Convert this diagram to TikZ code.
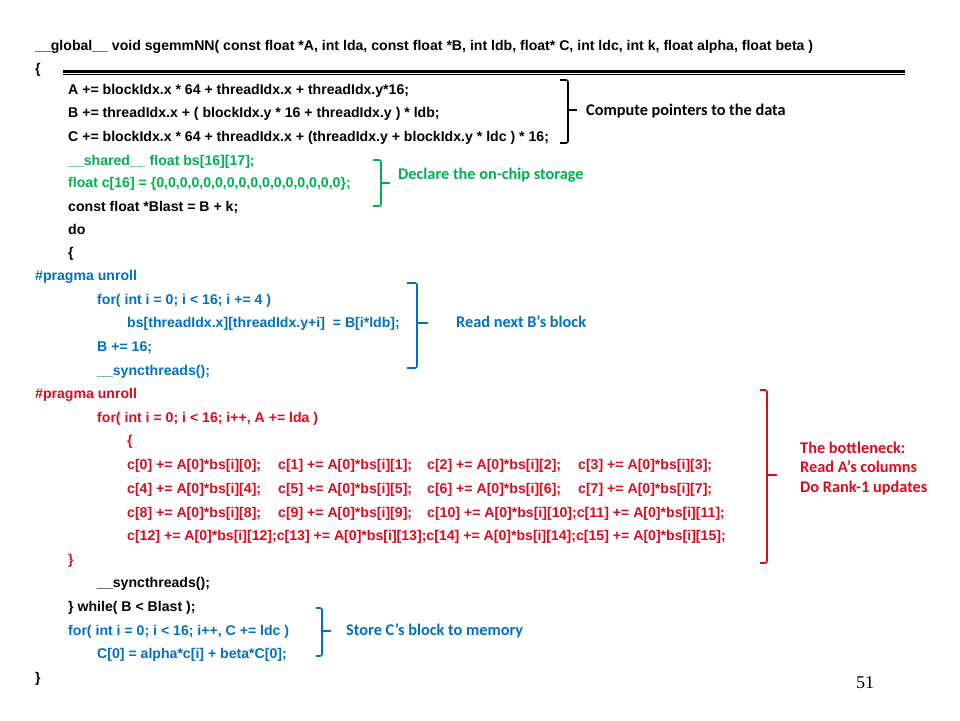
\documentclass[tikz,border=0pt]{standalone}
\usepackage{fontspec}
\setmainfont{Liberation Sans}
\newfontfamily\notefont{Carlito}
\newfontfamily\numfont{Liberation Serif}
\definecolor{codegreen}{RGB}{0,176,80}
\definecolor{codeblue}{RGB}{0,112,192}
\definecolor{codered}{RGB}{220,10,30}
\tikzset{
  code/.style={anchor=west, inner sep=0pt, text height=11pt, text depth=1pt,
               font=\bfseries\fontsize{14.1}{16}\selectfont},
  note/.style={anchor=west, inner sep=0pt, text height=12pt, text depth=1.5pt,
               font=\notefont\bfseries\fontsize{16.3}{19.3}\selectfont},
  bracket/.style={line width=1.6pt, rounded corners=2pt},
}
\begin{document}
\begin{tikzpicture}[x=1pt, y=-1pt]
        \useasboundingbox (0,0) rectangle (960,720);
        % Kernel header and separator rule
        \node[code] (head) at (35,45) {\_\_global\_\_ void sgemmNN( const float *A, int lda, const float *B, int ldb, float* C, int ldc, int k, float alpha, float beta )};
        \node[code] (open) at (35,68) {\{};
        \draw[line width=3pt] (63,71) -- (905,71);
        \draw[line width=1.2pt] (63,74.5) -- (905,74.5);

        % Pointers
        \node[code] (ptrA) at (68,89) {A += blockIdx.x * 64 + threadIdx.x + threadIdx.y*16;};
        \node[code] (ptrB) at (68,112) {B += threadIdx.x + ( blockIdx.y * 16 + threadIdx.y ) * ldb;};
        \node[code] (ptrC) at (68,136) {C += blockIdx.x * 64 + threadIdx.x + (threadIdx.y + blockIdx.y * ldc ) * 16;};

        % On-chip storage
        \node[code, codegreen] (shared) at (68,160) {\_\_shared\_\_ float bs[16][17];};
        \node[code, codegreen] (cinit) at (68,182) {float c[16] = \{0,0,0,0,0,0,0,0,0,0,0,0,0,0,0,0\};};
        \node[code] (blast) at (68,206) {const float *Blast = B + k;};
        \node[code] (do) at (68,229) {do};
        \node[code] (doopen) at (68,252) {\{};

        % Read B's block
        \node[code, codeblue] (prag1) at (35,275) {\#pragma unroll};
        \node[code, codeblue] (for1) at (97,299) {for( int i = 0; i < 16; i += 4 )};
        \node[code, codeblue] (load) at (127,322) {bs[threadIdx.x][threadIdx.y+i] \ = B[i*ldb];};
        \node[code, codeblue] (bstep) at (97,346) {B += 16;};
        \node[code, codeblue] (sync1) at (97,370) {\_\_syncthreads();};

        % Rank-1 updates
        \node[code, codered] (prag2) at (35,393) {\#pragma unroll};
        \node[code, codered] (for2) at (97,417) {for( int i = 0; i < 16; i++, A += lda )};
        \node[code, codered] (inopen) at (127,440) {\{};
        \node[code, codered] (c0) at (127,464) {c[0] += A[0]*bs[i][0];};
        \node[code, codered] (c1) at (278,464) {c[1] += A[0]*bs[i][1];};
        \node[code, codered] (c2) at (427,464) {c[2] += A[0]*bs[i][2];};
        \node[code, codered] (c3) at (578,464) {c[3] += A[0]*bs[i][3];};
        \node[code, codered] (c4) at (127,488) {c[4] += A[0]*bs[i][4];};
        \node[code, codered] (c5) at (278,488) {c[5] += A[0]*bs[i][5];};
        \node[code, codered] (c6) at (427,488) {c[6] += A[0]*bs[i][6];};
        \node[code, codered] (c7) at (578,488) {c[7] += A[0]*bs[i][7];};
        \node[code, codered] (c8) at (127,512) {c[8] += A[0]*bs[i][8];};
        \node[code, codered] (c9) at (278,512) {c[9] += A[0]*bs[i][9];};
        \node[code, codered] (c10) at (427,512) {c[10] += A[0]*bs[i][10];c[11] += A[0]*bs[i][11];};
        \node[code, codered] (c12) at (127,535) {c[12] += A[0]*bs[i][12];c[13] += A[0]*bs[i][13];c[14] += A[0]*bs[i][14];c[15] += A[0]*bs[i][15];};
        \node[code, codered] (inclose) at (68,559) {\}};

        % Loop tail and store
        \node[code] (sync2) at (97,582) {\_\_syncthreads();};
        \node[code] (while) at (68,606) {\} while( B < Blast );};
        \node[code, codeblue] (for3) at (68,630) {for( int i = 0; i < 16; i++, C += ldc )};
        \node[code, codeblue] (store) at (97,653) {C[0] = alpha*c[i] + beta*C[0];};
        \node[code] (close) at (35,677) {\}};

        % Brackets and notes
        \draw[bracket] (560,80) -- (568,80) -- (568,143) -- (560,143);
        \draw[bracket] (567,110) -- (577,110);
        \node[note] (ptrnote) at (586,110) {Compute pointers to the data};

        \draw[bracket, codegreen] (373,160) -- (381,160) -- (381,206) -- (373,206);
        \draw[bracket, codegreen] (380,183) -- (390,183);
        \node[note, codegreen] (storenote) at (398,174) {Declare the on-chip storage};

        \draw[bracket, codeblue] (407,283) -- (417,283) -- (417,368) -- (407,368);
        \draw[bracket, codeblue] (416,323) -- (428,323);
        \node[note, codeblue] (readnote) at (456,322) {Read next B’s block};

        \draw[bracket, codered] (760,390) -- (767,390) -- (767,563) -- (760,563);
        \draw[bracket, codered] (766,475) -- (777,475);
        \node[note, codered, align=left, text height=, text depth=] (bottlenote) at (800,468.5) {The bottleneck:\\Read A’s columns\\Do Rank-1 updates};

        \draw[bracket, codeblue] (316,608) -- (322,608) -- (322,656) -- (316,656);
        \draw[bracket, codeblue] (321,631) -- (331,631);
        \node[note, codeblue] (memnote) at (346,630) {Store C’s block to memory};

        \node[anchor=west, inner sep=0pt, font=\numfont\fontsize{18}{20}\selectfont] (page) at (856,683) {51};
\end{tikzpicture}
\end{document}
